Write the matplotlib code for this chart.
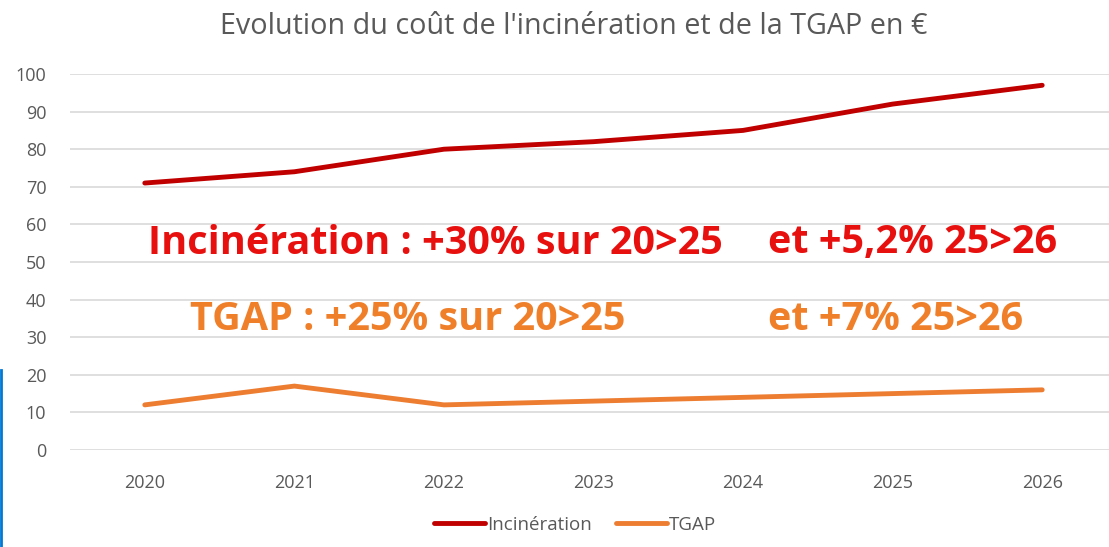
import numpy as np
import matplotlib.pyplot as plt
from matplotlib.lines import Line2D

years = ['2020', '2021', '2022', '2023', '2024', '2025', '2026']
incineration = [71, 74, 80, 82, 85, 92, 97]
tgap = [12, 17, 12, 13, 14, 15, 16]
y_ticks = [0, 10, 20, 30, 40, 50, 60, 70, 80, 90, 100]

plt.rcParams['font.family'] = ['Open Sans', 'DejaVu Sans']
grey = '#595959'

fig = plt.figure(figsize=(11.09, 5.47), dpi=100)
ax = fig.add_axes([70 / 1109, 97 / 547, 1047 / 1109, 376 / 547])

x = np.arange(len(years))
ax.plot(x, incineration, color='#C00000', lw=3.5, solid_capstyle='round', label='Incinération')
ax.plot(x, tgap, color='#ED7D31', lw=3.5, solid_capstyle='round', label='TGAP')

ax.set_xlim(-0.5, len(years) - 0.5)
ax.set_ylim(0, 100)
ax.set_yticks(y_ticks)
ax.set_xticks(x)
ax.set_xticklabels(years)
ax.grid(axis='y', color='#d9d9d9', lw=1.2)
ax.set_axisbelow(True)
for s in ax.spines.values():
    s.set_visible(False)
ax.tick_params(length=0, colors=grey, labelsize=13)
ax.tick_params(axis='y', pad=17)
ax.tick_params(axis='x', pad=17)

fig.text(574 / 1109, 1 - 27 / 547, "Evolution du coût de l'incinération et de la TGAP en €",
         ha='center', va='center', color=grey, fontsize=20.7)

# annotations
ax.text(148 / 1109, 1 - 243 / 547, 'Incinération : +30% sur 20>25', transform=fig.transFigure,
        color='#E8100F', fontsize=28.5, fontweight='bold', va='center', ha='left')
ax.text(768 / 1109, 1 - 243 / 547, 'et +5,2% 25>26', transform=fig.transFigure,
        color='#E8100F', fontsize=28.5, fontweight='bold', va='center', ha='left')
ax.text(190 / 1109, 1 - 320 / 547, 'TGAP : +25% sur 20>25', transform=fig.transFigure,
        color='#F07F2A', fontsize=28.5, fontweight='bold', va='center', ha='left')
ax.text(768 / 1109, 1 - 320 / 547, 'et +7% 25>26', transform=fig.transFigure,
        color='#F07F2A', fontsize=28.5, fontweight='bold', va='center', ha='left')

leg = fig.legend(loc='center', bbox_to_anchor=(575 / 1109, 1 - 525 / 547), ncol=2,
                 frameon=False, fontsize=13.5, handlelength=2.7, handletextpad=0.1,
                 columnspacing=1.3)
for t in leg.get_texts():
    t.set_color(grey)

fig.add_artist(Line2D([1 / 1109, 1 / 1109], [0, 1 - 370 / 547], color='#0078D4', lw=2))

fig.savefig('out.png', dpi=100)
